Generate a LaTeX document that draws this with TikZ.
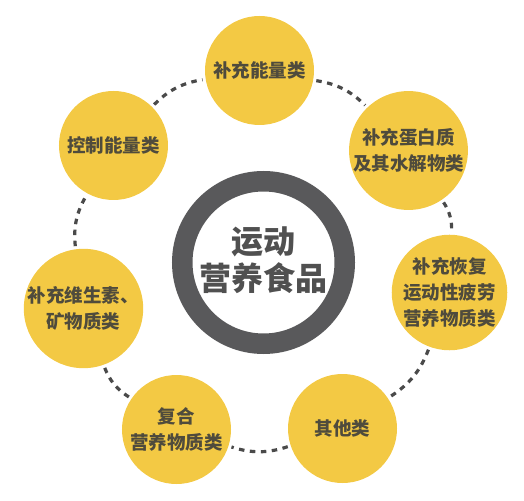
\documentclass[tikz,border=0pt]{standalone}
\usepackage{fontspec}
\setmainfont{Noto Sans CJK SC}
\newfontfamily\cjk{Noto Sans CJK SC}
\definecolor{ringgray}{HTML}{59595B}
\definecolor{foodyellow}{HTML}{F3C944}
\definecolor{labelgray}{HTML}{4F4B3C}
\definecolor{dashgray}{HTML}{4A4A4A}
\definecolor{titlegray}{HTML}{505050}

\begin{document}
\begin{tikzpicture}[x=1pt, y=1pt,
	food/.style={circle, fill=foodyellow, minimum size=109pt, inner sep=0pt, align=center, text=labelgray, font=\cjk\bfseries\fontsize{18.5}{26}\selectfont},
	link/.style={draw=dashgray, line width=3.2pt, dash pattern=on 5.5pt off 5.5pt, shorten >=3pt, shorten <=3pt, bend left=18}]
	\useasboundingbox (-263.5, -237.5) rectangle (260.5, 262.5);
	% draw the ring in the middle
	\draw [ringgray, line width=20.5pt] (0, 0) circle (81.25pt);
	\node [align=center, text=titlegray, font=\cjk\bfseries\fontsize{32}{37}\selectfont] (sport) at (0, 2) {运动\\营养食品};
	% yellow circles, clockwise from the top
	\node [food] (energy) at (-4, 192) {补充能量类};
	\node [food] (protein) at (145, 112) {补充蛋白质\\及其水解物类};
	\node [food] (fatigue) at (186, -30) {补充恢复\\运动性疲劳\\营养物质类};
	\node [food] (other) at (79, -166) {其他类};
	\node [food] (compound) at (-87, -167) {复合\\营养物质类};
	\node [food] (vitamin) at (-180, -46) {补充维生素、\\矿物质类};
	\node [food] (control) at (-150, 117) {控制能量类};
	% dashed arcs between the circles
	\draw [link] (energy) to (protein);
	\draw [link] (protein) to (fatigue);
	\draw [link] (fatigue) to (other);
	\draw [link] (other) to (compound);
	\draw [link] (compound) to (vitamin);
	\draw [link] (vitamin) to (control);
	\draw [link] (control) to (energy);
\end{tikzpicture}
\end{document}
